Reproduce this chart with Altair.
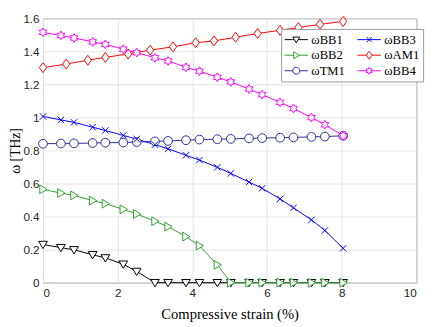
import altair as alt
import pandas as pd

# strain positions (x) shared by most series
strain = [0, 0.48, 0.83, 1.33, 1.67, 2.15, 2.51, 3.0, 3.35, 3.83, 4.19,
          4.67, 5.03, 5.52, 5.87, 6.35, 6.71, 7.19, 7.55, 8.04]
strain_am1 = [0, 0.62, 1.2, 1.67, 2.28, 2.87, 3.48, 4.09, 4.58, 5.16,
              5.75, 6.35, 6.84, 7.42, 8.04]

bb1 = [0.231, 0.212, 0.199, 0.169, 0.150, 0.112, 0.068, 0, 0, 0, 0,
       0, 0, 0, 0, 0, 0, 0, 0, 0]
bb2 = [0.565, 0.542, 0.528, 0.497, 0.478, 0.444, 0.416, 0.372, 0.339, 0.279,
       0.224, 0.108, 0, 0, 0, 0, 0, 0, 0, 0]
tm1 = [0.841, 0.842, 0.843, 0.845, 0.847, 0.848, 0.851, 0.855, 0.858, 0.862,
       0.866, 0.868, 0.870, 0.873, 0.875, 0.877, 0.879, 0.882, 0.884, 0.889]
bb3 = [1.006, 0.985, 0.970, 0.941, 0.921, 0.891, 0.869, 0.835, 0.810, 0.771,
       0.742, 0.698, 0.661, 0.609, 0.571, 0.507, 0.453, 0.380, 0.316, 0.208]
am1 = [1.301, 1.323, 1.346, 1.363, 1.384, 1.407, 1.427, 1.452, 1.463, 1.485,
       1.508, 1.527, 1.544, 1.563, 1.581]
bb4 = [1.515, 1.496, 1.481, 1.457, 1.442, 1.413, 1.392, 1.361, 1.342, 1.303,
       1.280, 1.243, 1.215, 1.172, 1.138, 1.091, 1.054, 0.999, 0.956, 0.889]

# legend order (column-major in a 2-column legend)
names = ["ωBB1", "ωBB2", "ωTM1", "ωBB3", "ωAM1", "ωBB4"]
colors = ["#000000", "#2ea02e", "#2b2b94", "#0000ff", "#ff0000", "#ff00ff"]

# marker outlines (unit paths, drawn small inside a large symbol box)
TRI_D = "M-0.3,-0.22L0.3,-0.22L0,0.28Z"
TRI_R = "M-0.22,-0.3L0.28,0L-0.22,0.3Z"
CIRC = "M0.3,0A0.3,0.3,0,1,1,-0.3,0A0.3,0.3,0,1,1,0.3,0Z"
X_SH = "M-0.22,-0.22L0.22,0.22M-0.22,0.22L0.22,-0.22"
DIAM = "M0,-0.34L0.25,0L0,0.34L-0.25,0Z"
HEX = ("M0,-0.3L0.087,-0.15L0.26,-0.15L0.173,0L0.26,0.15L0.087,0.15L0,0.3"
       "L-0.087,0.15L-0.26,0.15L-0.173,0L-0.26,-0.15L-0.087,-0.15Z")
shapes = [TRI_D, TRI_R, CIRC, X_SH, DIAM, HEX]

series = {
    "ωBB1": (strain, bb1),
    "ωBB2": (strain, bb2),
    "ωTM1": (strain, tm1),
    "ωBB3": (strain, bb3),
    "ωAM1": (strain_am1, am1),
    "ωBB4": (strain, bb4),
}
rows = []
for name, (xs, ys) in series.items():
    for i, (xv, yv) in enumerate(zip(xs, ys)):
        rows.append({"series": name, "series_l": name + " ", "x": xv, "y": yv, "i": i})
df = pd.DataFrame(rows)
names_l = [n + " " for n in names]

serif = "Liberation Serif"
sans = "Liberation Sans"

xenc = alt.X("x:Q", scale=alt.Scale(domain=[0, 10], nice=False),
             axis=alt.Axis(values=[0, 2, 4, 6, 8, 10], title="Compressive strain (%)"))
yenc = alt.Y("y:Q", scale=alt.Scale(domain=[0, 1.6], nice=False),
             axis=alt.Axis(values=[0, 0.2, 0.4, 0.6, 0.8, 1.0, 1.2, 1.4, 1.6],
                           format="~g", title="ω [THz]"))

common = dict(title=None, columns=2, orient="none", legendX=245, legendY=11,
              symbolSize=576, symbolStrokeWidth=1, symbolOpacity=1,
              labelFont=serif, labelFontSize=13, labelColor="#000000",
              labelExpr="trim(datum.label)", clipHeight=16,
              symbolOffset=0, labelOffset=3, columnPadding=12, rowPadding=0,
              padding=3)

line_legend = alt.Legend(**common, zindex=1, strokeColor="#999999",
                         fillColor="white", labelOpacity=0)
marker_legend = alt.Legend(**common, zindex=2, symbolFillColor="white")

lines = alt.Chart(df).mark_line(strokeWidth=1).encode(
    x=xenc, y=yenc,
    stroke=alt.Stroke("series_l:N", scale=alt.Scale(domain=names_l, range=colors),
                      legend=line_legend),
    detail="series:N", order="i:Q",
)

points = alt.Chart(df).mark_point(filled=False, fill="white", fillOpacity=1,
                                  size=900, strokeWidth=1, opacity=1).encode(
    x=xenc, y=yenc,
    color=alt.Color("series:N", scale=alt.Scale(domain=names, range=colors),
                    legend=marker_legend),
    shape=alt.Shape("series:N", scale=alt.Scale(domain=names, range=shapes),
                    legend=marker_legend),
)

chart = alt.layer(lines, points).properties(
    width=384, height=272,
    autosize=alt.AutoSizeParams(type="none"),
    padding={"left": 36, "top": 6, "right": 12, "bottom": 40},
).configure_view(
    stroke="#7a7a7a", strokeWidth=1,
).configure_axis(
    grid=True, gridColor="#e3e3e3", gridWidth=1,
    domain=False, ticks=False, tickSize=0,
    labelFont=sans, labelFontSize=12, labelColor="#262626",
    titleFont=serif, titleFontSize=15, titleFontWeight="normal", titleColor="#000000",
).configure_axisX(
    labelPadding=5, titlePadding=9,
).configure_axisY(
    labelPadding=4, titlePadding=0, titleFontSize=14,
)

chart.save("out.html", embed_options={"renderer": "svg", "actions": False})
